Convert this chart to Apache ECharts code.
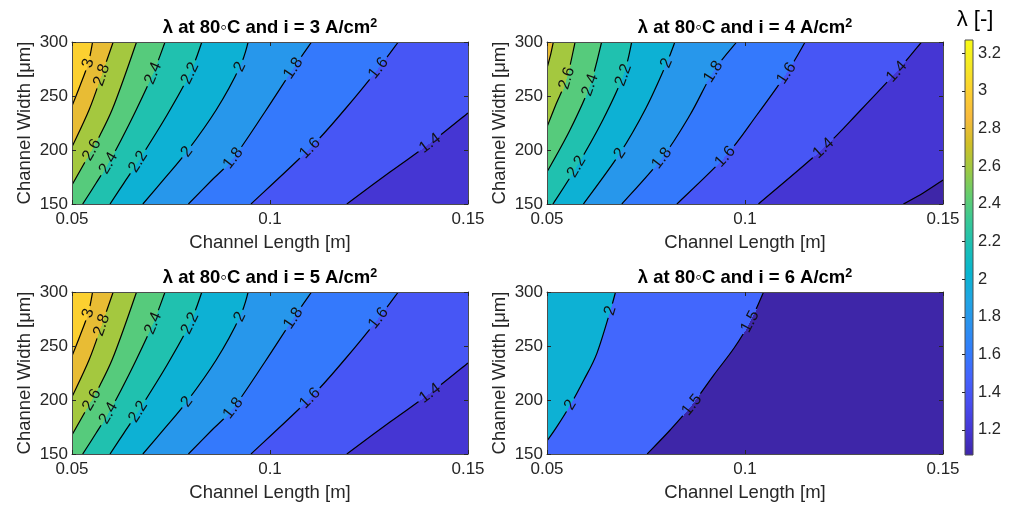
<!DOCTYPE html>
<html>
<head>
<meta charset="utf-8">
<script src="https://cdn.jsdelivr.net/npm/echarts@6/dist/echarts.min.js"></script>
<style>
html, body { margin: 0; padding: 0; background: #fff; }
#main { width: 1011px; height: 505px; }
</style>
</head>
<body>
<div id="main"></div>
<script>
// axis ranges and ticks
const lengthRange = [0.05, 0.15]
const widthRange = [150, 300]
const colorRange = [1.067, 3.27]
const colorTicks = [1.2, 1.4, 1.6, 1.8, 2, 2.2, 2.4, 2.6, 2.8, 3, 3.2]
const currents = [3, 4, 5, 6]
// level whose colour fills the area under the lowest drawn contour
const baseLevels = [1.2, 1.0, 1.2, 1.0]

// contour lines: [level, [[length, width], ...]] from bottom/left edge to top/right edge
const contoursI3 = [
  [1.4, [[0.1194, 150], [0.1303, 179.6], [0.1404, 206.2], [0.15, 234.3]]],
  [1.6, [[0.0952, 150], [0.1101, 201.6], [0.1192, 238.9], [0.1274, 275.6], [0.1324, 300]]],
  [1.8, [[0.0794, 150], [0.0851, 171.3], [0.0907, 192.3], [0.0987, 235.2], [0.1059, 275.6], [0.1105, 300]]],
  [2.0, [[0.0679, 150], [0.0735, 174.1], [0.0790, 198.4], [0.0864, 237.0], [0.0924, 277.1], [0.0945, 300]]],
  [2.2, [[0.0596, 150], [0.0631, 169.4], [0.0667, 189.2], [0.0740, 232.4], [0.0798, 271.0], [0.0828, 300]]],
  [2.4, [[0.0527, 150], [0.0561, 169.4], [0.0592, 187.7], [0.0624, 209.3], [0.0662, 237.0], [0.0705, 271.0], [0.0735, 300]]],
  [2.6, [[0.05, 167.6], [0.0550, 200.0], [0.0571, 213.9], [0.0601, 237.0], [0.0634, 269.4], [0.0663, 300]]],
  [2.8, [[0.05, 202.8], [0.0543, 237.0], [0.0575, 269.4], [0.0604, 300]]],
  [3.0, [[0.05, 240.7], [0.0520, 259.3], [0.0541, 280.3], [0.0552, 300]]]
]
const labelsI3 = [
  [0.0541, 280.3, 3.0], [0.0575, 269.4, 2.8], [0.0705, 271.0, 2.4], [0.0798, 271.0, 2.2],
  [0.0924, 277.1, 2.0], [0.1059, 275.6, 1.8], [0.1274, 275.6, 1.6],
  [0.0550, 200.0, 2.6], [0.0592, 187.7, 2.4], [0.0667, 189.2, 2.2], [0.0790, 198.4, 2.0],
  [0.0907, 192.3, 1.8], [0.1101, 201.6, 1.6], [0.1404, 206.2, 1.4]
]

const contoursI4 = [
  [1.2, [[0.1400, 150], [0.1450, 160.2], [0.15, 172.2]]],
  [1.4, [[0.1034, 150], [0.1198, 201.6], [0.1290, 236.1], [0.1383, 272.5], [0.1446, 300]]],
  [1.6, [[0.0828, 150], [0.0950, 193.8], [0.1030, 232.4], [0.1105, 271.0], [0.1152, 300]]],
  [1.8, [[0.0689, 150], [0.0790, 192.3], [0.0861, 232.4], [0.0920, 272.5], [0.0979, 300]]],
  [2.0, [[0.0592, 150], [0.0684, 196.9], [0.0750, 238.9], [0.0802, 280.3], [0.0823, 300]]],
  [2.2, [[0.0515, 150], [0.0575, 184.5], [0.0641, 227.8], [0.0693, 269.4], [0.0714, 300]]],
  [2.4, [[0.05, 179.6], [0.0558, 218.5], [0.0609, 260.2], [0.0638, 300]]],
  [2.6, [[0.05, 221.3], [0.0523, 242.6], [0.0550, 266.4], [0.0571, 300]]],
  [2.8, [[0.05, 275.9], [0.0509, 288.0], [0.0516, 300]]]
]
const labelsI4 = [
  [0.0550, 266.4, 2.6], [0.0609, 260.2, 2.4], [0.0693, 269.4, 2.2], [0.0802, 280.3, 2.0],
  [0.0920, 272.5, 1.8], [0.1105, 271.0, 1.6], [0.1383, 272.5, 1.4],
  [0.0575, 184.5, 2.2], [0.0684, 196.9, 2.0], [0.0790, 192.3, 1.8], [0.0950, 193.8, 1.6],
  [0.1198, 201.6, 1.4]
]

const contoursI5 = [
  [1.4, [[0.1194, 150], [0.1303, 179.6], [0.1404, 206.2], [0.15, 234.3]]],
  [1.6, [[0.0952, 150], [0.1101, 201.6], [0.1192, 238.9], [0.1274, 275.6], [0.1324, 300]]],
  [1.8, [[0.0794, 150], [0.0851, 171.3], [0.0907, 192.3], [0.0987, 235.2], [0.1059, 275.6], [0.1105, 300]]],
  [2.0, [[0.0679, 150], [0.0735, 174.1], [0.0790, 198.4], [0.0864, 237.0], [0.0924, 277.1], [0.0945, 300]]],
  [2.2, [[0.0596, 150], [0.0631, 169.4], [0.0667, 189.2], [0.0740, 232.4], [0.0798, 271.0], [0.0828, 300]]],
  [2.4, [[0.0527, 150], [0.0561, 169.4], [0.0592, 187.7], [0.0624, 209.3], [0.0662, 237.0], [0.0705, 271.0], [0.0735, 300]]],
  [2.6, [[0.05, 167.6], [0.0550, 200.0], [0.0571, 213.9], [0.0601, 237.0], [0.0634, 269.4], [0.0663, 300]]],
  [2.8, [[0.05, 202.8], [0.0543, 237.0], [0.0575, 269.4], [0.0604, 300]]],
  [3.0, [[0.05, 240.7], [0.0520, 259.3], [0.0541, 280.3], [0.0552, 300]]]
]
const labelsI5 = [
  [0.0541, 280.3, 3.0], [0.0575, 269.4, 2.8], [0.0705, 271.0, 2.4], [0.0798, 271.0, 2.2],
  [0.0924, 277.1, 2.0], [0.1059, 275.6, 1.8], [0.1274, 275.6, 1.6],
  [0.0550, 200.0, 2.6], [0.0592, 187.7, 2.4], [0.0667, 189.2, 2.2], [0.0790, 198.4, 2.0],
  [0.0907, 192.3, 1.8], [0.1101, 201.6, 1.6], [0.1404, 206.2, 1.4]
]

const contoursI6 = [
  [1.5, [[0.0753, 150], [0.0811, 172.2], [0.0866, 195.4], [0.0921, 223.1], [0.0972, 247.9], [0.1013, 272.5], [0.1047, 300]]],
  [2.0, [[0.05, 162.0], [0.0525, 175.3], [0.0559, 195.4], [0.0593, 218.5], [0.0626, 243.2], [0.0660, 282.7], [0.0673, 300]]]
]
const labelsI6 = [
  [0.0660, 282.7, 2.0], [0.0559, 195.4, 2.0], [0.1013, 272.5, 1.5], [0.0866, 195.4, 1.5]
]

const panelLines = [contoursI3, contoursI4, contoursI5, contoursI6]
const panelLabels = [labelsI3, labelsI4, labelsI5, labelsI6]

// layout of the four axes boxes [left, top]
const boxes = [[72, 42], [547, 42], [72, 292], [547, 292]]
const boxW = 396
const boxH = 162

const font = "Liberation Sans"
const ink = "#262626"
const edge = "#4d4d4d"

// parula colormap
const parulaStops = ["#3e26a8", "#4537d5", "#484df0", "#4563fd", "#327cfc", "#2b91ef", "#20a5e3", "#08b5d0",
  "#19bfb6", "#37c897", "#64cd6f", "#9dc943", "#d1bf27", "#f8ba3d", "#fccf30", "#f5e924", "#f9fb15"]

function hexRgb(h) {
  return [1, 3, 5].map((i) => parseInt(h.slice(i, i + 2), 16))
}
function parula(v) {
  let t = (v - colorRange[0]) / (colorRange[1] - colorRange[0])
  t = Math.max(0, Math.min(1, t))
  const f = t * (parulaStops.length - 1)
  const i = Math.min(Math.floor(f), parulaStops.length - 2)
  const u = f - i
  const a = hexRgb(parulaStops[i])
  const b = hexRgb(parulaStops[i + 1])
  return "rgb(" + a.map((x, k) => Math.round(x + (b[k] - x) * u)).join(",") + ")"
}

// smooth path through the pixel points (Catmull-Rom as cubic bezier)
function curvePath(px) {
  let d = "M" + px[0][0] + " " + px[0][1]
  for (let i = 0; i < px.length - 1; i++) {
    const p0 = px[i - 1] || px[i]
    const p1 = px[i]
    const p2 = px[i + 1]
    const p3 = px[i + 2] || p2
    d += " C" + (p1[0] + (p2[0] - p0[0]) / 6) + " " + (p1[1] + (p2[1] - p0[1]) / 6) +
      " " + (p2[0] - (p3[0] - p1[0]) / 6) + " " + (p2[1] - (p3[1] - p1[1]) / 6) +
      " " + p2[0] + " " + p2[1]
  }
  return d
}

const xAxes = []
const yAxes = []
const grids = []
const titles = []
const series = []

panelLines.forEach((lines, k) => {
  const labels = panelLabels[k]
  const levels = lines.map((c) => c[0])
  const base = baseLevels[k]

  grids.push({
    left: boxes[k][0], top: boxes[k][1], width: boxW, height: boxH,
    show: true, backgroundColor: parula(base), borderWidth: 0
  })

  const tick = { inside: true, length: 4, lineStyle: { color: ink } }
  const line = { show: true, onZero: false, lineStyle: { color: edge, width: 1 } }
  xAxes.push({
    gridIndex: k, type: "value", min: lengthRange[0], max: lengthRange[1], interval: 0.05,
    name: "Channel Length [m]", nameLocation: "middle", nameGap: 29,
    nameTextStyle: { fontSize: 18.5, color: ink, fontFamily: font },
    axisLine: line, axisTick: tick, splitLine: { show: false }, z: 5,
    axisLabel: { fontSize: 17, color: ink, fontFamily: font, margin: 7, showMinLabel: true, showMaxLabel: true }
  })
  xAxes.push({
    gridIndex: k, type: "value", position: "top", min: lengthRange[0], max: lengthRange[1], interval: 0.05,
    axisLine: line, axisTick: tick, axisLabel: { show: false }, splitLine: { show: false }, z: 5
  })
  yAxes.push({
    gridIndex: k, type: "value", min: widthRange[0], max: widthRange[1], interval: 50,
    name: "Channel Width [μm]", nameLocation: "middle", nameGap: 38,
    nameTextStyle: { fontSize: 18.5, color: ink, fontFamily: font },
    axisLine: line, axisTick: tick, splitLine: { show: false }, z: 5,
    axisLabel: { fontSize: 17, color: ink, fontFamily: font, margin: 4, showMinLabel: true, showMaxLabel: true }
  })
  yAxes.push({
    gridIndex: k, type: "value", position: "right", min: widthRange[0], max: widthRange[1], interval: 50,
    axisLine: line, axisTick: tick, axisLabel: { show: false }, splitLine: { show: false }, z: 5
  })

  titles.push({
    text: "λ at 80◦C and i = " + currents[k] + " A/cm{sup|2}",
    left: boxes[k][0] + boxW / 2, top: boxes[k][1] - 25, textAlign: "center", padding: 0,
    textStyle: {
      fontSize: 18.5, fontWeight: "bold", color: "#000", fontFamily: font, lineHeight: 22,
      rich: { sup: { fontSize: 12.5, fontWeight: "bold", color: "#000", fontFamily: font, lineHeight: 12, verticalAlign: "top" } }
    }
  })

  // filled bands, lowest level first
  series.push({
    type: "custom", xAxisIndex: 2 * k, yAxisIndex: 2 * k, clip: true, z: 2, silent: true,
    data: lines.map((c) => [c[1][0][0], c[1][0][1], c[0]]),
    renderItem: (params, api) => {
      const pts = lines[params.dataIndex][1]
      const start = pts[0]
      const end = pts[pts.length - 1]
      let d = curvePath(pts.map((p) => api.coord(p)))
      const add = (p) => { const q = api.coord(p); d += " L" + q[0] + " " + q[1] }
      if (end[1] < widthRange[1]) add([lengthRange[1], widthRange[1]])
      add([lengthRange[0], widthRange[1]])
      if (start[0] > lengthRange[0]) add([lengthRange[0], widthRange[0]])
      d += " Z"
      return { type: "path", shape: { pathData: d }, style: { fill: parula(lines[params.dataIndex][0]), stroke: null } }
    }
  })

  // contour lines
  series.push({
    type: "custom", xAxisIndex: 2 * k, yAxisIndex: 2 * k, clip: true, z: 3, silent: true,
    data: lines.map((c) => [c[1][0][0], c[1][0][1], c[0]]),
    renderItem: (params, api) => {
      const pts = lines[params.dataIndex][1]
      return {
        type: "path", shape: { pathData: curvePath(pts.map((p) => api.coord(p))) },
        style: { fill: null, stroke: "#000", lineWidth: 1.2 }
      }
    }
  })

  // inline labels, rotated along the line, hiding the line under them
  series.push({
    type: "custom", xAxisIndex: 2 * k, yAxisIndex: 2 * k, clip: false, z: 4, silent: true,
    data: labels,
    renderItem: (params, api) => {
      const lab = labels[params.dataIndex]
      const j = levels.indexOf(lab[2])
      const px = lines[j][1].map((p) => api.coord(p))
      const c = api.coord([lab[0], lab[1]])
      let near = 0
      let best = Infinity
      px.forEach((q, i) => {
        const dd = (q[0] - c[0]) ** 2 + (q[1] - c[1]) ** 2
        if (dd < best) { best = dd; near = i }
      })
      const a = px[Math.max(near - 1, 0)]
      const b = px[Math.min(near + 1, px.length - 1)]
      const angle = Math.atan2(a[1] - b[1], b[0] - a[0])
      const up = parula(lab[2])
      const low = parula(j > 0 ? levels[j - 1] : base)
      return {
        type: "text", x: c[0], y: c[1], rotation: angle,
        style: {
          text: String(lab[2]), fill: "#111", font: "16px '" + font + "'",
          align: "center", verticalAlign: "middle", padding: [0, 3],
          backgroundColor: new echarts.graphic.LinearGradient(0, 0, 0, 1, [
            { offset: 0, color: up }, { offset: 0.5, color: up },
            { offset: 0.5, color: low }, { offset: 1, color: low }
          ])
        }
      }
    }
  })
})

// colorbar
grids.push({ left: 965, top: 40, width: 8, height: 415 })
xAxes.push({ gridIndex: 4, type: "value", min: 0, max: 1, show: false })
yAxes.push({
  gridIndex: 4, type: "value", position: "right", min: colorRange[0], max: colorRange[1],
  axisLine: { show: false }, splitLine: { show: false }, z: 5,
  axisTick: { show: true, inside: true, length: 3, customValues: colorTicks, lineStyle: { color: ink } },
  axisLabel: { fontSize: 16.5, color: ink, fontFamily: font, margin: 5, customValues: colorTicks }
})
series.push({
  type: "custom", xAxisIndex: 8, yAxisIndex: 8, clip: false, z: 2, silent: true,
  data: [[0, colorRange[0]]],
  renderItem: (params, api) => {
    const a = api.coord([0, colorRange[1]])
    const b = api.coord([1, colorRange[0]])
    const stops = parulaStops.map((col, i) => ({ offset: i / (parulaStops.length - 1), color: col }))
    return {
      type: "rect", shape: { x: a[0], y: a[1], width: b[0] - a[0], height: b[1] - a[1] },
      style: { fill: new echarts.graphic.LinearGradient(0, 1, 0, 0, stops), stroke: edge, lineWidth: 1 }
    }
  }
})
titles.push({
  text: "λ [-]", left: 975, top: 9, textAlign: "center", padding: 0,
  textStyle: { fontSize: 22, fontWeight: "normal", color: "#000", fontFamily: font }
})

const chart = echarts.init(document.getElementById("main"), null, { renderer: "canvas" })
chart.setOption({
  animation: false,
  backgroundColor: "#fff",
  textStyle: { fontFamily: font },
  title: titles,
  grid: grids,
  xAxis: xAxes,
  yAxis: yAxes,
  series: series
})
</script>
</body>
</html>
